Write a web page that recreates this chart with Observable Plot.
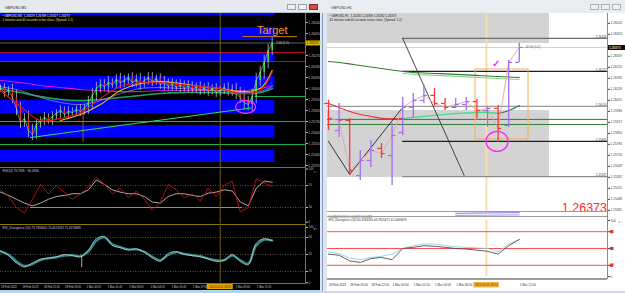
<!DOCTYPE html>
<html><head><meta charset="utf-8">
<script src="https://cdn.jsdelivr.net/npm/d3@7"></script>
<script src="https://cdn.jsdelivr.net/npm/@observablehq/plot@0.6"></script>
<style>
html,body{margin:0;padding:0}
body{width:625px;height:293px;overflow:hidden;position:relative;background:#d6dee8;font-family:"Liberation Sans",Arial,sans-serif}
</style></head><body>
<script>
// ================= DATA =================
// ---- left window: GBPUSD M5 (bar index, 5-minute bars, 0 = 28 Feb 19:05) ----
const m5Close = [1.26000,1.25967,1.25984,1.25927,1.25837,1.25722,1.25755,1.25657,1.25624,1.25706,1.25738,1.25763,1.25738,1.25771,1.25796,1.25820,1.25787,1.25812,1.25804,1.25828,1.25812,1.25837,1.25886,1.25943,1.26000,1.26033,1.26016,1.26049,1.26033,1.26074,1.26049,1.26066,1.26090,1.26049,1.26074,1.26033,1.26066,1.26090,1.26057,1.26082,1.26033,1.26049,1.26016,1.26041,1.26008,1.26033,1.26000,1.26025,1.25992,1.26016,1.25984,1.26008,1.25976,1.26000,1.25967,1.25984,1.26008,1.25976,1.25992,1.25959,1.25927,1.25886,1.25869,1.25935,1.26066,1.26131,1.26213,1.26311,1.26373];
const m5Wick = [3,4,3,5,6,5,4,6,5,4,3,4,3,4,3,4,3,4,3,3,4,3,5,6,5,4,4,5,3,4,5,4,3,4,4,5,3,4,4,3,4,5,3,4,3,4,3,4,3,3,4,3,4,3,4,3,3,4,4,5,5,6,5,6,6,5,6,5,4]; // pips
const m5SpikeIdx = 62, m5SpikeLow = 1.25558, m5SpikeHigh = 1.25820;
const maIdx = [0,15,30,45,60,75,90,105,120,135,150,165,180,195,204];
const maMagenta = [1.26066,1.26049,1.26025,1.26008,1.25992,1.25984,1.25976,1.25976,1.25984,1.25984,1.25984,1.25984,1.25984,1.26000,1.26025];
const maGreen   = [1.26000,1.25967,1.25935,1.25910,1.25902,1.25910,1.25927,1.25943,1.25959,1.25967,1.25967,1.25967,1.25959,1.25967,1.26000];
const maSlate   = [1.26016,1.25984,1.25927,1.25886,1.25869,1.25902,1.25959,1.26000,1.26008,1.26000,1.25992,1.25984,1.25967,1.25976,1.26016];
const maRed     = [1.25984,1.25853,1.25738,1.25755,1.25804,1.25918,1.26016,1.26049,1.26049,1.26033,1.26016,1.26000,1.25959,1.25984,1.26131];
const maYellowIdx = [45,60,75,90,105,120,135,150,165,180,195,204];
const maYellow  = [1.25738,1.25787,1.25869,1.25984,1.26041,1.26057,1.26041,1.26016,1.26000,1.25976,1.26000,1.26147];
const leftZones = [[1.26595,1.26614],[1.26393,1.26499],[1.26213,1.26295],[1.25992,1.26098],[1.25796,1.25902],[1.25599,1.25697],[1.25395,1.25493]];
const leftZoneEnd = 206;
const leftRedLevels = [1.26295,1.26221];
const leftGreenLevels = [1.25730,1.25542];
const leftGreenShort = 1.25935, leftGreenShortFrom = 191;
const trendIdx = [22.5,188], trendPrice = [1.25599,1.25841];
const leftCircleIdx = 184, leftCirclePrice = 1.25849;
const targetIdx = 204, targetPrice = 1.26445, targetLineFrom = 182, targetLineTo = 223, targetLinePrice = 1.26425;
const leftTicks = [1.26540,1.26450,1.26270,1.26180,1.26090,1.26000,1.25910,1.25820,1.25730,1.25640,1.25550,1.25460,1.25370];
const rsiRed = [62,50,30,20,45,72,55,70,58,45,55,68,85,72,55,65,48,60,45,25,40,72,62,48,55,42,65,50,70,78,22,30,82,75,68];
const rsiMa  = [58,52,45,38,33,38,45,50,52,55,55,62,80,72,62,58,55,55,50,40,38,50,55,55,52,50,56,58,62,60,40,33,65,78,76];
const rsiTrendIdx = [22.5,181.7], rsiTrendLevel = 30;
const divWhite = [57,48,35,28,35,42,44,46,50,48,46,58,78,82,66,62,58,60,54,44,38,52,55,50,48,46,42,38,40,50,38,32,70,78,74];
const divTeal  = [55,50,38,30,33,40,43,45,48,49,47,55,74,80,68,63,59,59,55,46,40,49,54,51,49,47,43,40,40,48,40,34,66,76,75];
const divSpikeIdx = 61, divSpikeLow = 27, divSpikeHigh = 46;
const leftCursor = 165;
const leftTimeLabels = ["28 Feb 2023","28 Feb 20:25","28 Feb 21:45","28 Feb 23:05","1 Mar 00:25","1 Mar 01:45","1 Mar 03:05","1 Mar 04:25","1 Mar 05:45","1 Mar 07:05","1 Mar 08:25","1 Mar 09:45","1 Mar 11:05"];
const cursorLabel = "2023.03.01 08:50";
const currentPrice = 1.26373;

// ---- right window: GBPUSD H1 (bar index, 0 = 28 Feb 18:00) ----
const h1Open  = [1.26032,1.25867,1.25928,1.25593,1.25685,1.25758,1.25715,1.25855,1.26008,1.26050,1.26081,1.26032,1.26008,1.26026,1.26044,1.25989,1.26002,1.25898,1.26282];
const h1High  = [1.26050,1.26032,1.25941,1.25746,1.25807,1.25788,1.25910,1.26069,1.26093,1.26142,1.26123,1.26062,1.26062,1.26069,1.26056,1.26008,1.26020,1.26294,1.26399];
const h1Low   = [1.25867,1.25825,1.25593,1.25563,1.25642,1.25697,1.25533,1.25837,1.25941,1.26032,1.26014,1.25989,1.26002,1.25989,1.25941,1.25886,1.25794,1.25886,1.26282];
const h1Close = [1.25941,1.25928,1.25624,1.25685,1.25746,1.25727,1.25837,1.26008,1.26050,1.26081,1.26032,1.26008,1.26026,1.26044,1.25989,1.26002,1.25880,1.26282,1.26373];
const h1SlowMa = [1.26288,1.26282,1.26273,1.26263,1.26254,1.26245,1.26236,1.26227,1.26221,1.26218,1.26215,1.26212,1.26209,1.26206,1.26203,1.26199,1.26196,1.26193,1.26190];
const h1FastMa = [1.26032,1.26008,1.25983,1.25965,1.25953,1.25941,1.25938,1.25941,1.25947,1.25953,1.25959,1.25965,1.25971,1.25974,1.25977,1.25977,1.25971,1.25989,1.26020];
const rightZones = [[1.26397,1.26580],[1.25581,1.25989]];
const rightZoneEnd = 20.85;
const rightLevels = [1.26428,1.26227,1.26014,1.25801,1.25587];
const rightLevelFrom = [7,7,-0.1,7,7];
const rightGreenLevels = [1.25935,1.25904];
const zigIdx = [0,2,7], zigPrice = [1.25801,1.25600,1.26008];
const diagIdx = [7,12.8], diagPrice = [1.26428,1.25593];
const boxIdx = [13.87,18.87], boxPrice = [1.25813,1.26239];
const rightCircleIdx = 15.9, rightCirclePrice = 1.25801;
const checkIdx = 15.8, checkPrice = 1.26276;
const rightCursor = 14.9;
const rightTicks = [1.26520,1.26453,1.26319,1.26252,1.26185,1.26118,1.26051,1.25984,1.25917,1.25850,1.25783,1.25716,1.25649,1.25582,1.25515,1.25448,1.25381];
const rsiDark  = [40,38,28,25,32,34,30,50,52,55,54,52,50,49,47,45,40,55,66];
const rsiLight = [44,41,33,30,34,36,40,50,55,58,58,55,53,52,51,50,44,58,66];
const rsiRightLevels = [80,50,20];
const stripIdx = [12,13,14,15,16,17,18];
const stripPurple = [0.70,0.72,0.74,0.76,0.78,0.80,0.82];
const stripBlue = [0.35,0.36,0.36,0.38,0.40,0.42,0.45];
const rightTimeLabels = ["28 Feb 2023","28 Feb 20:00","28 Feb 22:00","1 Mar 00:00","1 Mar 02:00","1 Mar 04:00","1 Mar 06:00","1 Mar 08:00","1 Mar 10:00","1 Mar 12:00"];

const leftInfo1 = "\u2022 GBPUSD,M5  1.26329 1.26399 1.26327 1.26373";
const leftInfo2 = "2 minutes and 40 seconds to bar close. (Spread: 1.2)";
const rightInfo1 = "\u2022 GBPUSD,H1  1.26282 1.26399 1.26282 1.26373";
const rightInfo2 = "42 minutes and 40 seconds to bar close. (Spread: 1.2)";
const leftRsiTitle = "RSI(14) 73.7958  ~65.4956";
const leftDivTitle = "RSI_Divergence (14) 73.7958620 74.4074292 71.4570689";
const rightRsiTitle = "RSI_Divergence (14) 60.3584265 63.7820471 62.4483929";
const rightOsmaTitle = "OsMA(12,26,9) 0.00017 0.00023";
const leftCountdown = "2:40 (1.2)", rightCountdown = "42:40 (1.2)";
const targetText = "Target";

// ================= HELPERS =================
const F = '"Liberation Sans", Arial, sans-serif';
function div(x,y,w,h,bg,extra){const d=document.createElement("div");d.style.cssText=`position:absolute;left:${x}px;top:${y}px;width:${w}px;height:${h}px;background:${bg};${extra||""}`;document.body.appendChild(d);return d;}
function place(node,x,y){node.style.position="absolute";node.style.left=x+"px";node.style.top=y+"px";node.style.maxWidth="none";document.body.appendChild(node);}
function svgLabel(x,y,txt,size,color){const s=d3.create("svg").attr("width",80).attr("height",10).style("position","absolute").style("left",x+"px").style("top",y+"px").style("overflow","visible");s.append("text").attr("x",0).attr("y",size).attr("font-size",size).attr("font-family",F).attr("fill",color).text(txt);document.body.appendChild(s.node());}
const ellipse=(kx,ky)=>({draw(ctx,size){const r=Math.sqrt(size/Math.PI),rx=r*kx,ry=r*ky,k=0.5523;ctx.moveTo(rx,0);ctx.bezierCurveTo(rx,ry*k,rx*k,ry,0,ry);ctx.bezierCurveTo(-rx*k,ry,-rx,ry*k,-rx,0);ctx.bezierCurveTo(-rx,-ry*k,-rx*k,-ry,0,-ry);ctx.bezierCurveTo(rx*k,-ry,rx,-ry*k,rx,0);ctx.closePath();}});

// ================= WINDOW CHROME =================
div(0,0,320,293,"#000");
div(0,0,320,13,"#e6eaef","border-bottom:1px solid #b8c2cc;box-sizing:border-box");
svgLabel(5,4.5,"GBPUSD,M5",3.6,"#222");
div(287,4,9,6,"#eef1f4","border:0.5px solid #9aa4ae;box-sizing:border-box");
div(298,4,9,6,"#eef1f4","border:0.5px solid #9aa4ae;box-sizing:border-box");
div(309,4,9,6,"#d24a4a","border:0.5px solid #8a2a2a;box-sizing:border-box");
div(0,290,320,3,"#a8d8f2");
div(320,0,305,293,"#dfe6ee");
div(320,0,305,13,"#e8edf2");
svgLabel(331,4.5,"GBPUSD,H1",3.6,"#333");
div(590,4,9,6,"#eef1f4","border:0.5px solid #aab3bc;box-sizing:border-box");
div(601,4,9,6,"#eef1f4","border:0.5px solid #aab3bc;box-sizing:border-box");
div(612,4,9,6,"#eef1f4","border:0.5px solid #aab3bc;box-sizing:border-box");
div(322,13,1,280,"#7a9cc6");
div(327,13,298,278,"#fff");

// ================= LEFT PLOTS =================
const LX = {domain:[0,229], axis:null};
const lstyle = {background:"transparent", color:"#bdbdbd", fontFamily:F, overflow:"visible"};
const m5 = m5Close.map((c,i)=>({t:i*3, c, o: i ? m5Close[i-1] : c, w:(m5Wick[i] ?? 3)*0.0001}));
const ma = (arr, color, w, idx) => Plot.line(arr.map((p,i)=>({t:(idx||maIdx)[i], p})), {x:"t", y:"p", stroke:color, strokeWidth:w, curve:"catmull-rom"});

const leftMain = Plot.plot({
  width:320, height:154, marginLeft:0, marginRight:15, marginTop:0, marginBottom:0,
  x:LX, y:{domain:[1.25354,1.26614], axis:null}, style:lstyle,
  marks:[
    Plot.rect(leftZones, {x1:()=>0, x2:()=>leftZoneEnd, y1:d=>d[0], y2:d=>d[1], fill:"#0000fe"}),
    Plot.ruleY([currentPrice], {x1:()=>0, x2:()=>229, stroke:"#6a6a6a", strokeWidth:0.9}),
    Plot.ruleY(leftRedLevels, {x1:()=>0, x2:()=>229, stroke:"#c8102e", strokeWidth:0.9}),
    Plot.ruleY(leftGreenLevels, {x1:()=>0, x2:()=>229, stroke:"#1fc85a", strokeWidth:0.9}),
    Plot.ruleY([leftGreenShort], {x1:()=>leftGreenShortFrom, x2:()=>229, stroke:"#1fc85a", strokeWidth:0.9}),
    Plot.ruleX([leftCursor], {stroke:"#7d6b12", strokeWidth:0.9}),
    ma(maMagenta, "#d21ad2", 1.1),
    ma(maGreen, "#17a36b", 1.6),
    ma(maSlate, "#8a8ad0", 0.8),
    Plot.ruleX(m5, {x:"t", y1:d=>Math.min(d.o,d.c)-d.w, y2:d=>Math.max(d.o,d.c)+d.w, stroke:"#cfd8cf", strokeWidth:0.7}),
    Plot.ruleX(m5, {x:"t", y1:"o", y2:"c", stroke:d=>d.c>=d.o?"#3ee05a":"#e23030", strokeWidth:1.4}),
    Plot.line(m5, {x:"t", y:"c", stroke:"#9fe0b0", strokeWidth:0.6}),
    Plot.ruleX([m5SpikeIdx], {y1:()=>m5SpikeLow, y2:()=>m5SpikeHigh, stroke:"#b04a4a", strokeWidth:1}),
    ma(maYellow, "#e8c020", 1.1, maYellowIdx),
    ma(maRed, "#e01818", 1.1),
    Plot.line(trendIdx.map((t,i)=>({t, p:trendPrice[i]})), {x:"t", y:"p", stroke:"#2ee05c", strokeWidth:1}),
    Plot.dot([{t:leftCircleIdx, p:leftCirclePrice}], {x:"t", y:"p", r:8, symbol:ellipse(1.25,0.8), stroke:"#ff33ff", strokeWidth:1.3, fill:"none"}),
    Plot.ruleY([targetLinePrice], {x1:()=>targetLineFrom, x2:()=>targetLineTo, stroke:"#c97a08", strokeWidth:1}),
    Plot.text([targetText], {x:()=>targetIdx, y:()=>targetPrice, fill:"#f59a23", fontSize:11, textAnchor:"middle", lineAnchor:"bottom"}),
    Plot.text([leftCountdown], {x:()=>207, y:()=>currentPrice, fill:"#cfcfcf", fontSize:3, textAnchor:"start"}),
    Plot.text([leftInfo1], {frameAnchor:"top-left", textAnchor:"start", lineAnchor:"top", dx:2, dy:1.5, fontSize:3, fill:"#e8e8e8"}),
    Plot.text([leftInfo2], {frameAnchor:"top-left", textAnchor:"start", lineAnchor:"top", dx:2, dy:5.5, fontSize:3, fill:"#e6e030"}),
    Plot.axisY(leftTicks, {anchor:"right", tickSize:2, tickPadding:1, fontSize:3.2, tickFormat:d=>d.toFixed(5)}),
    Plot.ruleY([currentPrice], {x1:()=>229.4, x2:()=>240.5, stroke:"#e0b400", strokeWidth:5}),
    Plot.text([currentPrice], {x:()=>230, y:d=>d, text:d=>d.toFixed(5), textAnchor:"start", fill:"#111", fontSize:3.2})
  ]
});
place(leftMain, 0, 13);

const leftRsi = Plot.plot({
  width:320, height:57, marginLeft:0, marginRight:15, marginTop:1.5, marginBottom:0.5,
  x:LX, y:{domain:[0,100], axis:null}, style:lstyle,
  marks:[
    Plot.ruleY([70,30], {x1:()=>0, x2:()=>229, stroke:"#8a8a8a", strokeDasharray:"1,1.5", strokeWidth:0.6}),
    Plot.ruleY([rsiTrendLevel], {x1:()=>rsiTrendIdx[0], x2:()=>rsiTrendIdx[1], stroke:"#2ee05c", strokeWidth:0.9}),
    Plot.ruleX([leftCursor], {stroke:"#7d6b12", strokeWidth:0.9}),
    Plot.line(rsiMa.map((v,i)=>({t:i*6, v})), {x:"t", y:"v", stroke:"#d4d4d4", strokeWidth:0.8}),
    Plot.line(rsiRed.map((v,i)=>({t:i*6, v})), {x:"t", y:"v", stroke:"#c41010", strokeWidth:0.9}),
    Plot.text([leftRsiTitle], {frameAnchor:"top-left", textAnchor:"start", lineAnchor:"top", dx:2, dy:0.5, fontSize:3, fill:"#cfcfcf"}),
    Plot.axisY([100,70,30], {anchor:"right", tickSize:2, tickPadding:1, fontSize:3})
  ]
});
place(leftRsi, 0, 167);

const leftDiv = Plot.plot({
  width:320, height:59, marginLeft:0, marginRight:15, marginTop:1.7, marginBottom:0.7,
  x:LX, y:{domain:[0,100], axis:null}, style:lstyle,
  marks:[
    Plot.ruleY([80,50,20], {x1:()=>0, x2:()=>229, stroke:"#8a8a8a", strokeDasharray:"1,1.5", strokeWidth:0.6}),
    Plot.ruleX([leftCursor], {stroke:"#7d6b12", strokeWidth:0.9}),
    Plot.line(divTeal.map((v,i)=>({t:i*6, v})), {x:"t", y:"v", stroke:"#2d8c8c", strokeWidth:2.2, curve:"catmull-rom"}),
    Plot.line(divWhite.map((v,i)=>({t:i*6, v})), {x:"t", y:"v", stroke:"#e4e4e4", strokeWidth:0.7, curve:"catmull-rom"}),
    Plot.ruleX([divSpikeIdx], {y1:()=>divSpikeLow, y2:()=>divSpikeHigh, stroke:"#d8d8d8", strokeWidth:0.8}),
    Plot.text([leftDivTitle], {frameAnchor:"top-left", textAnchor:"start", lineAnchor:"top", dx:2, dy:0.8, fontSize:3, fill:"#cfcfcf"}),
    Plot.axisY([80,50,20,0], {anchor:"right", tickSize:2, tickPadding:1, fontSize:3}),
    Plot.axisY([100], {anchor:"right", tickSize:2, tickPadding:1, fontSize:3, dy:1.2})
  ]
});
place(leftDiv, 0, 224);

// RSI pane "0" label sits just above the separator
const leftRsiZero = Plot.plot({
  width:320, height:57, marginLeft:0, marginRight:15, marginTop:1.5, marginBottom:0.5,
  x:LX, y:{domain:[0,100], axis:null}, style:lstyle,
  marks:[Plot.axisY([0], {anchor:"right", tickSize:2, tickPadding:1, fontSize:3, dy:-1.8})]
});
place(leftRsiZero, 0, 167);

const ltData = leftTimeLabels.map((s,i)=>({s, t:i*16})).filter(d=>Math.abs(d.t-leftCursor)>=10);
const leftTime = Plot.plot({
  width:320, height:7, marginLeft:0, marginRight:15, marginTop:0, marginBottom:0,
  x:LX, y:{domain:[0,1], axis:null}, style:lstyle,
  marks:[
    Plot.text(ltData, {x:"t", text:"s", textAnchor:"start", dx:0.8, fontSize:2.7, fill:"#d0d0d0"}),
    Plot.rect([leftCursor], {x1:d=>d-9.75, x2:d=>d+9.75, y1:()=>0.12, y2:()=>0.92, fill:"#e9a500"}),
    Plot.text([cursorLabel], {x:()=>leftCursor, fontSize:2.8, fill:"#3a2a00"})
  ]
});
place(leftTime, 0, 283);

// left separators (olive)
div(0,167,306,1,"#8c7a00"); div(0,224,306,1,"#8c7a00"); div(0,283,306,1,"#8c7a00"); div(305,13,1,270,"#8c7a00");

// ================= RIGHT PLOTS =================
const RX = {domain:[-0.094,26.32], axis:null};
const rstyle = {background:"transparent", color:"#444", fontFamily:F, overflow:"visible"};
const h1 = h1Open.map((o,i)=>({i, o, h:h1High[i], l:h1Low[i], c:h1Close[i]}));
const barColor = d => d.c>=d.o ? "#a36cf0" : "#ff3434";
const lvColors = ["#6e6e6e","#1e1e1e","#9a9a9a","#1e1e1e","#8a8a8a"];
const fastPts = h1FastMa.map((p,i)=>({i,p}));

const rightMain = Plot.plot({
  width:303, height:198, marginLeft:5, marginRight:18, marginTop:0, marginBottom:0,
  x:RX, y:{domain:[1.25374,1.26580], axis:null}, style:rstyle,
  marks:[
    Plot.rect(rightZones, {x1:()=>-0.094, x2:()=>rightZoneEnd, y1:d=>d[0], y2:d=>d[1], fill:"#d3d3d3"}),
    Plot.ruleX([rightCursor], {stroke:"#fddcb0", strokeWidth:2}),
    Plot.ruleY([currentPrice], {x1:()=>-0.094, x2:()=>26.32, stroke:"#c4c4c4", strokeWidth:0.8}),
    Plot.ruleY(rightLevels, {x1:(d,i)=>rightLevelFrom[i], x2:()=>26.32, stroke:(d,i)=>lvColors[i], strokeWidth:1.2}),
    Plot.text(rightLevels, {x:()=>26.32, y:d=>d, text:d=>d.toFixed(5), textAnchor:"end", lineAnchor:"bottom", dx:-1, dy:-0.5, fontSize:3, fill:"#444"}),
    Plot.ruleY(rightGreenLevels, {x1:()=>-0.094, x2:()=>26.32, stroke:"#2f7d32", strokeWidth:1}),
    Plot.rect([0], {x1:()=>boxIdx[0], x2:()=>boxIdx[1], y1:()=>boxPrice[0], y2:()=>boxPrice[1], fill:"none", stroke:"#f4ad5f", strokeWidth:1}),
    Plot.line(h1SlowMa.map((p,i)=>({i,p})).filter(d=>d.i>=7), {x:"i", y:d=>d.p-0.00012, stroke:"#8fd18f", strokeWidth:1.1, curve:"catmull-rom"}),
    Plot.line(h1SlowMa.map((p,i)=>({i,p})), {x:"i", y:"p", stroke:"#2e7d32", strokeWidth:1.1, curve:"catmull-rom"}),
    Plot.line(fastPts.filter(d=>d.i<=7), {x:"i", y:"p", stroke:"#f03030", strokeWidth:1.1, curve:"catmull-rom"}),
    Plot.line(fastPts.filter(d=>d.i>=7 && d.i<=16), {x:"i", y:"p", stroke:"#3fe08a", strokeWidth:1.3, curve:"catmull-rom"}),
    Plot.line(fastPts.filter(d=>d.i>=16), {x:"i", y:"p", stroke:"#2a7a3a", strokeWidth:1.1, curve:"catmull-rom"}),
    Plot.line(zigIdx.map((i,k)=>({i, p:zigPrice[k]})), {x:"i", y:"p", stroke:"#222", strokeWidth:0.9}),
    Plot.line(diagIdx.map((i,k)=>({i, p:diagPrice[k]})), {x:"i", y:"p", stroke:"#333", strokeWidth:0.9}),
    Plot.line(h1, {x:"i", y:"c", stroke:"#e4a4a4", strokeWidth:0.9}),
    Plot.ruleX(h1, {x:"i", y1:"l", y2:"h", stroke:barColor, strokeWidth:1.3}),
    Plot.ruleY(h1, {y:"o", x1:d=>d.i-0.35, x2:d=>d.i, stroke:barColor, strokeWidth:1.2}),
    Plot.ruleY(h1, {y:"c", x1:d=>d.i, x2:d=>d.i+0.35, stroke:barColor, strokeWidth:1.2}),
    Plot.dot([{i:rightCircleIdx, p:rightCirclePrice}], {x:"i", y:"p", r:10.5, symbol:ellipse(1.05,0.95), stroke:"#ff22ff", strokeWidth:1.3, fill:"none"}),
    Plot.text(["\u2713"], {x:()=>checkIdx, y:()=>checkPrice, fill:"#ff22ff", fontSize:10, fontWeight:"bold"}),
    Plot.text([rightCountdown], {x:()=>18.6, y:()=>currentPrice, textAnchor:"start", fontSize:3, fill:"#555"}),
    Plot.text([rightInfo1], {frameAnchor:"top-left", textAnchor:"start", lineAnchor:"top", dx:2, dy:1.5, fontSize:3, fill:"#222"}),
    Plot.text([rightInfo2], {frameAnchor:"top-left", textAnchor:"start", lineAnchor:"top", dx:2, dy:5.5, fontSize:3, fill:"#222"}),
    Plot.text(["1.26373"], {frameAnchor:"bottom-right", textAnchor:"end", lineAnchor:"bottom", dx:-0.5, dy:0, fontSize:12.5, fill:"#ff2a2a"}),
    Plot.axisY(rightTicks, {anchor:"right", tickSize:2, tickPadding:1, fontSize:3.2, tickFormat:d=>d.toFixed(5)}),
    Plot.ruleY([currentPrice], {x1:()=>26.35, x2:()=>28.05, stroke:"#111", strokeWidth:5}),
    Plot.text([currentPrice], {x:()=>26.45, y:d=>d, text:d=>d.toFixed(5), textAnchor:"start", fill:"#fff", fontSize:3.2})
  ]
});
place(rightMain, 322, 13);

const rightStrip = Plot.plot({
  width:303, height:6, marginLeft:5, marginRight:18, marginTop:0, marginBottom:0,
  x:RX, y:{domain:[0,1], axis:null}, style:rstyle,
  marks:[
    Plot.line(stripIdx.map((i,k)=>({i, v:stripPurple[k]})), {x:"i", y:"v", stroke:"#a36cf0", strokeWidth:1}),
    Plot.line(stripIdx.map((i,k)=>({i, v:stripBlue[k]})), {x:"i", y:"v", stroke:"#6a8cff", strokeWidth:0.8}),
    Plot.text([rightOsmaTitle], {frameAnchor:"bottom-left", textAnchor:"start", lineAnchor:"bottom", dx:1, dy:0.5, fontSize:3, fill:"#a03030"})
  ]
});
place(rightStrip, 322, 211);

const rightRsi = Plot.plot({
  width:303, height:61, marginLeft:5, marginRight:18, marginTop:3, marginBottom:2,
  x:RX, y:{domain:[0,100], axis:null}, style:rstyle,
  marks:[
    Plot.ruleX([rightCursor], {stroke:"#fddcb0", strokeWidth:2}),
    Plot.ruleY(rsiRightLevels, {x1:()=>-0.094, x2:()=>26.32, stroke:"#ff3a3a", strokeWidth:0.9}),
    Plot.line(rsiLight.map((v,i)=>({i,v})), {x:"i", y:"v", stroke:"#8fcfe6", strokeWidth:0.9}),
    Plot.line(rsiDark.map((v,i)=>({i,v})), {x:"i", y:"v", stroke:"#505050", strokeWidth:0.9}),
    Plot.text([rightRsiTitle], {frameAnchor:"top-left", textAnchor:"start", lineAnchor:"top", dx:1, dy:-1.5, fontSize:3, fill:"#333"}),
    Plot.dot(rsiRightLevels, {y:d=>d, frameAnchor:"right", dx:4, symbol:"square", r:1.8, fill:"#ff3a3a"}),
    Plot.axisY([100,80,50,20,0], {anchor:"right", tickSize:2, tickPadding:1, fontSize:3.2})
  ]
});
place(rightRsi, 322, 217);

const rtData = rightTimeLabels.map((s,i)=>({s, i:i*2})).filter(d=>Math.abs(d.i-rightCursor)>=1.2);
const rightTime = Plot.plot({
  width:303, height:12, marginLeft:5, marginRight:18, marginTop:0, marginBottom:0,
  x:RX, y:{domain:[0,1], axis:null}, style:rstyle,
  marks:[
    Plot.text(rtData, {x:"i", text:"s", textAnchor:"start", dx:0.5, fontSize:3, fill:"#333"}),
    Plot.rect([rightCursor], {x1:d=>d-1.2, x2:d=>d+1.2, y1:()=>0.3, y2:()=>0.75, fill:"#f7b340"}),
    Plot.text([cursorLabel], {x:()=>rightCursor, fontSize:3, fill:"#4a3000"})
  ]
});
place(rightTime, 322, 279);

// right separators
div(327,211,280,1,"#9c9c9c"); div(327,216,280,1,"#9c9c9c"); div(327,278,280,1.5,"#9c9c9c"); div(607,13,0.8,266,"#8a8a8a");
div(320,291,305,2,"#cfd8e2");
</script>
</body></html>
